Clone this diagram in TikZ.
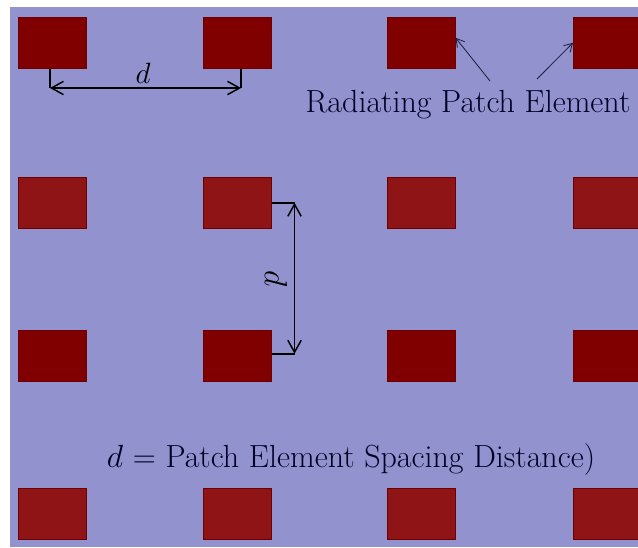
\RequirePackage{fix-cm}
\documentclass[tikz,border=0pt]{standalone}
\usepackage{tikz}
\usetikzlibrary{positioning,calc,arrows.meta}
\definecolor{substrate}{RGB}{146,146,206}
\definecolor{patchdark}{RGB}{128,0,0}
\definecolor{patchlight}{RGB}{142,20,22}
\definecolor{pointer}{RGB}{28,28,58}
\tikzset{patch/.style={draw=patchdark!85!black, line width=0.4pt, inner sep=0pt, minimum width=51pt, minimum height=38.25pt, anchor=north west}}
\tikzset{dimline/.style={draw, line width=1.1pt}}
\tikzset{dimarr/.style={dimline, {Straight Barb[length=9pt,width=10pt]}-{Straight Barb[length=9pt,width=10pt]}}}
\tikzset{ptr/.style={draw=pointer, line width=0.6pt, -{Straight Barb[length=6pt,width=7pt]}}}
\tikzset{bigtext/.style={font=\fontsize{24}{28}\selectfont, text=black!85!blue, anchor=base}}

\begin{document}
\begin{tikzpicture}[x=0.75pt, y=-0.75pt]
	\fill[white] (0,0) rectangle (638,547);
	\useasboundingbox (0,0) rectangle (638,547);
	\fill[substrate] (10,7) rectangle (638,547);

	% patch array, rows alternate in shade
	\foreach \r/\y/\c in {1/17/patchdark, 2/177/patchlight, 3/330/patchdark, 4/488/patchlight}
		\foreach \k/\x in {1/18, 2/203, 3/387, 4/573}
			\node[patch, fill=\c] (P\r\k) at (\x,\y) {};

	% horizontal spacing
	\coordinate (h1) at (50,88);
	\coordinate (h2) at (241,88);
	\draw[dimline] (P11.south -| h1) -- (h1);
	\draw[dimline] (P12.south -| h2) -- (h2);
	\draw[dimarr] (h1) -- (h2);
	\node[font=\fontsize{22}{26}\selectfont, anchor=base] (dh) at (143,83) {$d$};

	% vertical spacing
	\coordinate (v1) at ($(P22.east)+(23,0)$);
	\coordinate (v2) at ($(P32.east)+(23,-2)$);
	\draw[dimline] (P22.east) -- (v1);
	\draw[dimline] (P32.east |- v2) -- (v2);
	\draw[dimarr] (v1) -- (v2);
	\node[rotate=-90, font=\fontsize{24}{28}\selectfont] (dv) at (276,279) {$d$};

	\node[bigtext] (rpe) at (468,112) {Radiating Patch Element};
	\coordinate (t1) at (490,81);
	\coordinate (t2) at (537,79);
	\draw[ptr] (t1) -- ($(P13.east)+(0,-5)$);
	\draw[ptr] (t2) -- (P14.west);

	\node[bigtext] (legend) at (351,467) {$d$ = Patch Element Spacing Distance)};
\end{tikzpicture}
\end{document}
